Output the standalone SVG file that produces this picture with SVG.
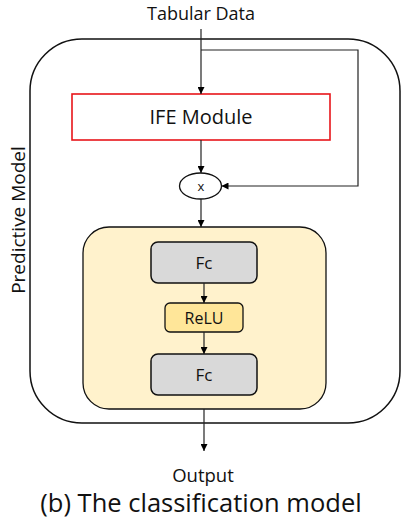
<svg xmlns="http://www.w3.org/2000/svg" width="402" height="520" viewBox="0 0 402 520">
<defs>
<marker id="ah" viewBox="0 0 10 10" refX="10" refY="5" markerWidth="7" markerHeight="7" markerUnits="userSpaceOnUse" orient="auto">
<path d="M0,0 L10,5 L0,10 z" fill="#000"/>
</marker>
<style>
text{font-family:"Open Sans","Liberation Sans",sans-serif;fill:#111;text-anchor:middle}
.ln{fill:none;stroke:#222;stroke-width:1.2}
.fc{fill:#d9d9d9;stroke:#111;stroke-width:1.5}
</style>
</defs>
<rect width="402" height="520" fill="#fff"/>
<g id="predictive-model">
<rect x="30" y="39" width="370" height="384" rx="52" fill="none" stroke="#111" stroke-width="1.5"/>
<text transform="translate(25,220) rotate(-90)" font-size="19">Predictive Model</text>
</g>
<g id="ife-module">
<rect x="72" y="94" width="258" height="46" fill="#fff" stroke="#e8141a" stroke-width="1.6"/>
<text x="201" y="124" font-size="20">IFE Module</text>
</g>
<g id="multiply">
<ellipse cx="200.5" cy="186" rx="21" ry="13" fill="#fff" stroke="#111" stroke-width="1.3"/>
<text x="201" y="191" font-size="13">x</text>
</g>
<g id="mlp-block">
<rect x="83" y="227" width="243" height="182" rx="26" fill="#fff2cc" stroke="#111" stroke-width="1.3"/>
</g>
<g id="fc1">
<rect class="fc" x="151" y="242" width="106" height="41" rx="7"/>
<text x="204" y="268.5" font-size="17">Fc</text>
</g>
<g id="relu">
<rect x="165" y="303" width="78" height="29" rx="5" fill="#ffe699" stroke="#111" stroke-width="1.3"/>
<text x="204" y="323.5" font-size="16">ReLU</text>
</g>
<g id="fc2">
<rect class="fc" x="151" y="354" width="106" height="41" rx="7"/>
<text x="204" y="380.5" font-size="17">Fc</text>
</g>
<g id="connectors">
<line class="ln" x1="201" y1="29" x2="201" y2="94" marker-end="url(#ah)"/>
<polyline class="ln" points="201,50 358,50 358,186 221.5,186" marker-end="url(#ah)"/>
<line class="ln" x1="201" y1="140" x2="201" y2="173" marker-end="url(#ah)"/>
<line class="ln" x1="201" y1="199" x2="201" y2="227" marker-end="url(#ah)"/>
<line class="ln" x1="204" y1="283" x2="204" y2="303" marker-end="url(#ah)"/>
<line class="ln" x1="204" y1="332" x2="204" y2="354" marker-end="url(#ah)"/>
<line class="ln" x1="204" y1="409" x2="204" y2="451" marker-end="url(#ah)"/>
</g>
<g id="labels">
<text x="201" y="19.5" font-size="18">Tabular Data</text>
<text x="203" y="482" font-size="18.5">Output</text>
<text x="201" y="512" font-size="25.5">(b) The classification model</text>
</g>
</svg>
